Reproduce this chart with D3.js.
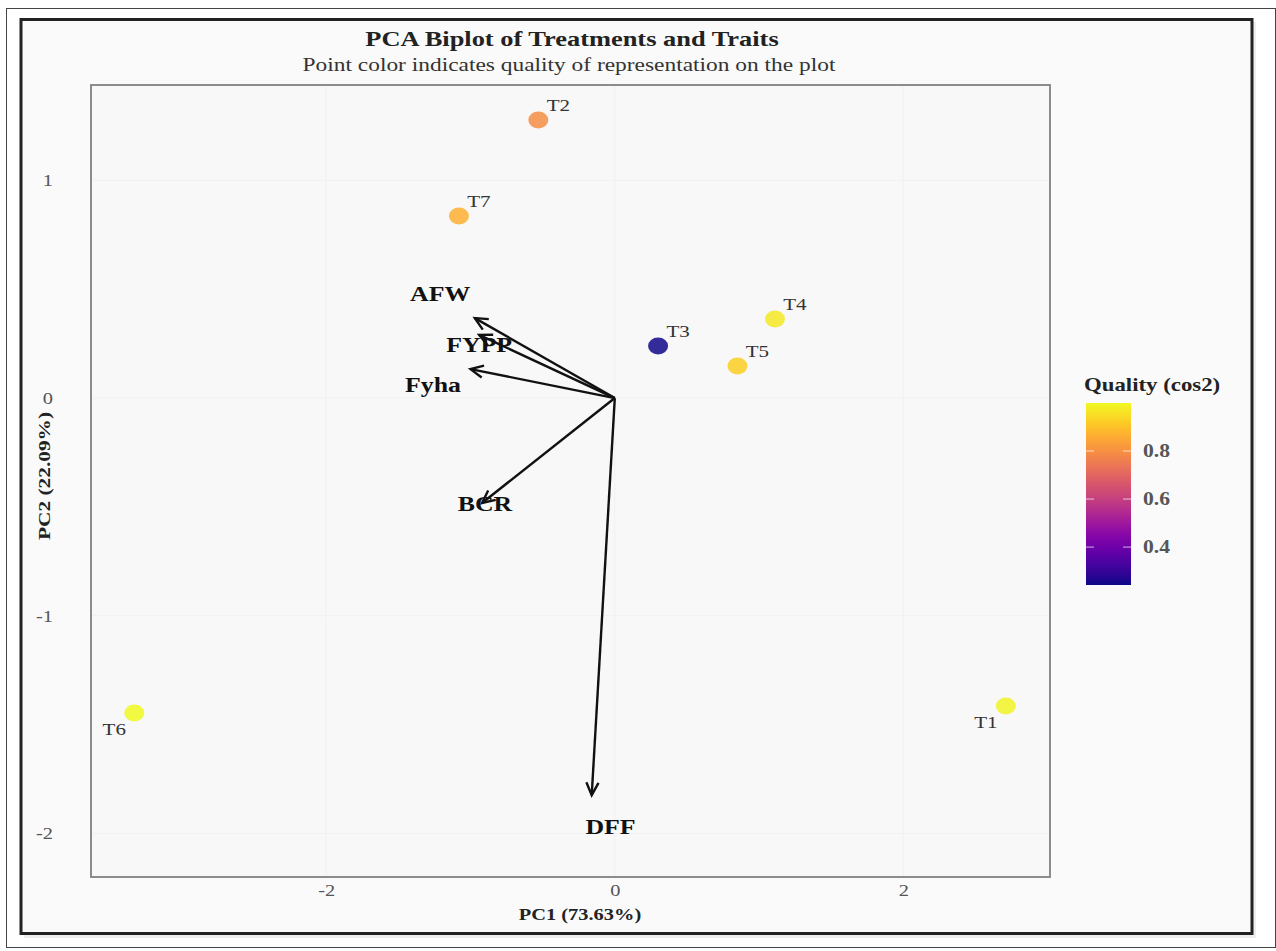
<!DOCTYPE html>
<html>
<head>
<meta charset="utf-8">
<script src="https://cdn.jsdelivr.net/npm/d3@7"></script>
<style>
  body { margin: 0; background: #fff; }
  svg text { font-family: "Liberation Serif", "Times New Roman", serif; }
</style>
</head>
<body>
<div id="chart"></div>
<script>
// treatments (individuals)
const treatments = ["T1", "T2", "T3", "T4", "T5", "T6", "T7"];
const pc1 = [2.71, -0.53, 0.30, 1.11, 0.85, -3.33, -1.08];
const pc2 = [-1.415, 1.277, 0.239, 0.363, 0.147, -1.447, 0.836];
const cos2 = [0.99, 0.795, 0.245, 0.97, 0.925, 1.0, 0.865];
const labelSide = ["below", "above", "above", "above", "above", "below", "above"];

// traits (variables)
const traits = ["AFW", "FYPP", "Fyha", "BCR", "DFF"];
const traitX = [-0.97, -0.94, -1.0, -0.92, -0.16];
const traitY = [0.367, 0.29, 0.133, -0.482, -1.824];
const traitLabelX = [-1.21, -0.94, -1.26, -0.90, -0.03];
const traitLabelY = [0.48, 0.248, 0.064, -0.482, -1.966];

const xTicks = [-2, 0, 2];
const yTicks = [-2, -1, 0, 1];
const legendTicks = [0.4, 0.6, 0.8];

const W = 1276, H = 951;
const panel = { left: 91, top: 85, right: 1050, bottom: 877 };
const stretchK = 1.2; // the picture is a bit wider than it is tall

const svg = d3.select("#chart").append("svg")
    .attr("width", W)
    .attr("height", H);

// outer frames
svg.append("rect").attr("x", 6.5).attr("y", 8.5).attr("width", W - 7).attr("height", H - 12)
    .attr("fill", "#fff").attr("stroke", "#444").attr("stroke-width", 1);
svg.append("rect").attr("x", 24).attr("y", 22).attr("width", 1232).attr("height", 916)
    .attr("fill", "#e2e2e2").attr("opacity", 0.6);
svg.append("rect").attr("x", 21).attr("y", 19.5).attr("width", 1231).attr("height", 914)
    .attr("fill", "#fafafa").attr("stroke", "#222").attr("stroke-width", 3);

const x = d3.scaleLinear().domain([-3.63, 3.016]).range([panel.left, panel.right]);
const y = d3.scaleLinear().domain([-2.2, 1.438]).range([panel.bottom, panel.top]);
const color = d3.scaleSequential(d3.interpolatePlasma).domain([0.242, 1.0]);

// panel
svg.append("rect")
    .attr("x", panel.left).attr("y", panel.top)
    .attr("width", panel.right - panel.left).attr("height", panel.bottom - panel.top)
    .attr("fill", "#f8f8f8");

// faint grid
svg.append("g").selectAll("line").data(xTicks).join("line")
    .attr("x1", d => x(d)).attr("x2", d => x(d))
    .attr("y1", panel.top).attr("y2", panel.bottom)
    .attr("stroke", "#f1f1f1").attr("stroke-width", 1);
svg.append("g").selectAll("line").data(yTicks).join("line")
    .attr("y1", d => y(d)).attr("y2", d => y(d))
    .attr("x1", panel.left).attr("x2", panel.right)
    .attr("stroke", "#f1f1f1").attr("stroke-width", 1);

svg.append("rect")
    .attr("x", panel.left).attr("y", panel.top)
    .attr("width", panel.right - panel.left).attr("height", panel.bottom - panel.top)
    .attr("fill", "none").attr("stroke", "#808080").attr("stroke-width", 1.8);

// axes (plain hyphen for negatives, like the original)
const xAxis = svg.append("g")
    .attr("transform", `translate(0, ${panel.bottom})`)
    .call(d3.axisBottom(x).tickValues(xTicks).tickSize(0).tickPadding(7).tickFormat(d => String(d)));
xAxis.select(".domain").remove();
xAxis.selectAll("text").attr("font-size", 17).attr("fill", "#555")
    .style("font-family", "Liberation Serif");

const yAxis = svg.append("g")
    .attr("transform", `translate(${panel.left}, 0)`)
    .call(d3.axisLeft(y).tickValues(yTicks).tickSize(0).tickPadding(38).tickFormat(d => String(d)));
yAxis.select(".domain").remove();
yAxis.selectAll("text").attr("font-size", 17).attr("fill", "#555")
    .style("font-family", "Liberation Serif");

// titles
svg.append("text").attr("class", "wide").attr("x", 572).attr("y", 46).attr("text-anchor", "middle")
    .attr("font-size", 22).attr("font-weight", "bold").attr("fill", "#222")
    .text("PCA Biplot of Treatments and Traits");
svg.append("text").attr("class", "wide").attr("x", 569).attr("y", 71).attr("text-anchor", "middle")
    .attr("font-size", 19.5).attr("fill", "#333")
    .text("Point color indicates quality of representation on the plot");

svg.append("text").attr("class", "wide").attr("x", 580).attr("y", 920).attr("text-anchor", "middle")
    .attr("font-size", 17).attr("font-weight", "bold").attr("fill", "#222")
    .text("PC1 (73.63%)");
svg.append("text")
    .attr("transform", `translate(50, 476) rotate(-90)`)
    .attr("text-anchor", "middle")
    .attr("font-size", 17).attr("font-weight", "bold").attr("fill", "#222")
    .attr("textLength", 128).attr("lengthAdjust", "spacingAndGlyphs")
    .text("PC2 (22.09%)");

// trait arrows
const traitData = traits.map((t, i) => ({ name: t, x: traitX[i], y: traitY[i], lx: traitLabelX[i], ly: traitLabelY[i] }));
const arrows = svg.append("g");
arrows.selectAll("line.shaft").data(traitData).join("line")
    .attr("class", "shaft")
    .attr("x1", x(0)).attr("y1", y(0))
    .attr("x2", d => x(d.x)).attr("y2", d => y(d.y))
    .attr("stroke", "#111").attr("stroke-width", 2.4);

const headLen = 14, headAng = Math.PI / 7;
arrows.selectAll("path.head").data(traitData).join("path")
    .attr("class", "head")
    .attr("d", d => {
        const tx = x(d.x), ty = y(d.y);
        const a = Math.atan2(ty - y(0), tx - x(0));
        const p1 = [tx - headLen * Math.cos(a - headAng), ty - headLen * Math.sin(a - headAng)];
        const p2 = [tx - headLen * Math.cos(a + headAng), ty - headLen * Math.sin(a + headAng)];
        return `M${p1[0]},${p1[1]}L${tx},${ty}L${p2[0]},${p2[1]}`;
    })
    .attr("fill", "none").attr("stroke", "#111").attr("stroke-width", 2.4)
    .attr("stroke-linejoin", "miter");

arrows.selectAll("text").data(traitData).join("text")
    .attr("class", "wide")
    .attr("x", d => x(d.lx)).attr("y", d => y(d.ly))
    .attr("dy", "0.35em").attr("text-anchor", "middle")
    .attr("font-size", 21.5).attr("font-weight", "bold").attr("fill", "#111")
    .text(d => d.name);

// treatment points
const pointData = treatments.map((t, i) => ({ name: t, x: pc1[i], y: pc2[i], q: cos2[i], side: labelSide[i] }));
const pts = svg.append("g");
pts.selectAll("ellipse").data(pointData).join("ellipse")
    .attr("cx", d => x(d.x)).attr("cy", d => y(d.y))
    .attr("rx", 10).attr("ry", 8.5)
    .attr("fill", d => color(d.q)).attr("opacity", 0.85);
pts.selectAll("text").data(pointData).join("text")
    .attr("class", "wide")
    .attr("x", d => x(d.x) + (d.side === "above" ? 20 : -20))
    .attr("y", d => y(d.y) + (d.side === "above" ? -9 : 22))
    .attr("text-anchor", "middle")
    .attr("font-size", 17.5).attr("fill", "#333")
    .text(d => d.name);

// colour legend
const leg = { x: 1086, top: 403, bottom: 585, w: 45 };
const ly = d3.scaleLinear().domain(color.domain()).range([leg.bottom, leg.top]);
const defs = svg.append("defs");
const grad = defs.append("linearGradient").attr("id", "plasma")
    .attr("x1", 0).attr("y1", 1).attr("x2", 0).attr("y2", 0);
d3.range(0, 1.0001, 0.05).forEach(t => {
    grad.append("stop").attr("offset", t).attr("stop-color", d3.interpolatePlasma(t));
});
svg.append("rect").attr("x", leg.x).attr("y", leg.top).attr("width", leg.w)
    .attr("height", leg.bottom - leg.top).attr("fill", "url(#plasma)");
const lt = svg.append("g").selectAll("g").data(legendTicks).join("g");
lt.append("line").attr("x1", leg.x).attr("x2", leg.x + 8)
    .attr("y1", d => ly(d)).attr("y2", d => ly(d)).attr("stroke", "#fff").attr("stroke-width", 1).attr("opacity", 0.7);
lt.append("line").attr("x1", leg.x + leg.w - 8).attr("x2", leg.x + leg.w)
    .attr("y1", d => ly(d)).attr("y2", d => ly(d)).attr("stroke", "#fff").attr("stroke-width", 1).attr("opacity", 0.7);
lt.append("text").attr("class", "wide").attr("x", leg.x + leg.w + 12).attr("y", d => ly(d)).attr("dy", "0.35em")
    .attr("font-size", 18).attr("font-weight", "bold").attr("fill", "#555")
    .text(d => d3.format(".1f")(d));
svg.append("text").attr("class", "wide").attr("x", leg.x - 2).attr("y", 391)
    .attr("font-size", 19).attr("font-weight", "bold").attr("fill", "#222")
    .text("Quality (cos2)");

// widen the text the same way the picture is widened
xAxis.selectAll("text").classed("wide", true);
yAxis.selectAll("text").classed("wide", true);
svg.selectAll("text.wide").each(function () {
    const len = this.getComputedTextLength();
    d3.select(this).attr("textLength", len * stretchK).attr("lengthAdjust", "spacingAndGlyphs");
});
</script>
</body>
</html>
